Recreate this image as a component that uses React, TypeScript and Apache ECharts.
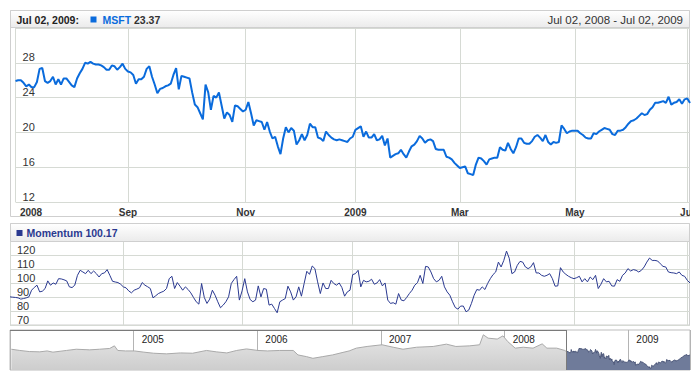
import React, { useEffect, useRef } from 'react';
import * as echarts from 'echarts';

// ---------- data ----------
const RANGE_START = '2008-07-02';
const RANGE_END = '2009-07-02';
const HOLIDAYS = ['2008-07-04', '2008-09-01', '2008-11-27', '2008-12-25', '2009-01-01', '2009-01-19', '2009-02-16', '2009-04-10', '2009-05-25'];
const MONTHS = ['Jan', 'Feb', 'Mar', 'Apr', 'May', 'Jun', 'Jul', 'Aug', 'Sep', 'Oct', 'Nov', 'Dec'];

// MSFT daily close, one value per trading day from Jul 02, 2008 to Jul 02, 2009
const msftValues = [
  25.9, 26.0, 26.0, 25.7, 25.3, 25.5, 25.2, 25.2, 25.8, 27.3,
  27.4, 25.9, 25.7, 25.9, 26.4, 25.5, 26.1, 25.5, 26.2, 26.2,
  25.8, 25.4, 25.2, 26.2, 26.8, 27.3, 28.0, 27.9, 28.1, 27.9,
  27.8, 27.8, 27.7, 27.5, 27.2, 27.2, 27.7, 27.6, 27.2, 27.5,
  27.9, 27.3, 27.0, 26.9, 26.6, 25.6, 26.1, 26.1, 26.4, 27.3,
  27.6, 26.4, 25.5, 24.5, 25.0, 25.1, 25.3, 25.4, 25.6, 26.6,
  27.4, 24.95, 26.5, 26.4, 26.3, 26.2, 24.6, 23.2, 22.9, 22.2,
  21.5, 25.5, 24.6, 22.6, 24.2, 24.0, 24.6, 23.1, 21.6, 22.3,
  22.0, 21.2, 23.1, 23.0, 22.7, 22.4, 22.6, 23.5, 22.2, 20.8,
  21.4, 21.3, 21.2, 20.3, 21.2, 20.1, 19.3, 19.5, 18.4, 17.5,
  19.3, 20.6, 20.0, 20.5, 20.2, 18.6, 19.1, 19.8, 19.1, 19.7,
  21.0, 20.6, 20.6, 19.4, 19.3, 19.0, 20.1, 19.7, 19.4, 19.2,
  19.1, 19.2, 19.1, 19.0, 18.9, 19.3, 19.5, 20.3, 20.5, 20.7,
  19.5, 20.1, 19.4, 19.4, 19.8, 19.1, 19.2, 19.6, 18.5, 19.3,
  17.1, 17.3, 17.5, 17.6, 18.0, 17.5, 17.1, 17.8, 18.4, 18.6,
  19.0, 19.6, 19.3, 18.8, 19.1, 19.2, 19.0, 18.1, 18.0, 18.0,
  18.0, 17.2, 17.1, 16.9, 16.5, 16.2, 15.9, 16.0, 16.1, 15.3,
  15.2, 15.1, 16.3, 17.1, 17.0, 16.7, 16.3, 16.9, 17.0, 17.1,
  17.1, 18.3, 18.0, 17.9, 18.8, 18.1, 17.6, 18.3, 19.3, 19.3,
  18.8, 18.7, 18.7, 19.0, 19.5, 19.7, 19.4, 19.0, 19.7, 18.9,
  18.6, 18.9, 18.8, 18.9, 20.8, 20.4, 19.9, 20.1, 20.2, 20.2,
  20.2, 19.9, 19.7, 19.4, 19.3, 19.3, 19.9, 19.8, 20.1, 20.3,
  20.5, 20.4, 20.3, 19.8, 19.7, 20.2, 20.2, 20.3, 20.6, 21.0,
  21.3, 21.4, 21.6, 21.9, 22.2, 22.0, 22.1, 22.6, 22.9, 23.4,
  23.4, 23.5, 23.6, 23.4, 24.1, 23.2, 23.4, 23.5, 23.8, 23.3,
  23.8, 23.9, 23.37,
];

// Momentum indicator, one value per trading day
const momentumValues = [
  90.2, 90.0, 89.8, 89.5, 88.6, 89.0, 89.5, 90.2, 95.0, 97.0,
  98.6, 93.8, 94.3, 96.2, 101.7, 98.6, 100.2, 99.3, 103.3, 103.1,
  102.5, 101.7, 97.4, 96.9, 98.6, 105.7, 109.3, 108.1, 106.9, 109.3,
  106.9, 108.8, 106.9, 104.5, 106.9, 107.4, 109.8, 105.7, 101.4, 100.9,
  100.5, 99.3, 97.4, 96.7, 94.5, 93.1, 95.0, 95.8, 96.7, 100.5,
  98.6, 97.5, 96.2, 89.5, 91.0, 92.6, 93.5, 94.3, 96.2, 103.3,
  105.0, 96.2, 100.5, 97.9, 95.0, 97.4, 95.5, 93.1, 89.8, 86.7,
  85.0, 99.8, 89.8, 85.5, 88.6, 95.0, 91.4, 86.7, 82.4, 84.3,
  86.7, 90.2, 99.8, 102.6, 105.0, 87.9, 94.5, 103.3, 93.8, 88.3,
  86.7, 87.9, 98.1, 90.2, 96.2, 95.7, 84.3, 85.0, 81.9, 78.8,
  86.7, 87.9, 89.0, 97.9, 93.8, 87.9, 90.2, 97.4, 90.7, 99.8,
  108.6, 106.4, 112.4, 110.5, 101.0, 92.6, 100.2, 96.2, 96.2, 102.1,
  99.8, 98.6, 100.2, 96.9, 90.7, 93.8, 95.0, 106.2, 106.9, 109.3,
  97.4, 102.1, 101.0, 101.4, 102.9, 99.3, 100.2, 102.6, 98.1, 100.2,
  87.9, 85.5, 86.0, 85.0, 92.6, 87.9, 87.4, 89.8, 92.6, 95.0,
  98.6, 100.4, 105.7, 99.8, 112.1, 111.7, 108.1, 103.3, 101.0, 102.1,
  105.0, 97.4, 93.8, 91.4, 86.7, 82.6, 81.4, 83.6, 83.6, 79.5,
  80.7, 85.5, 91.4, 95.5, 95.0, 97.4, 95.5, 99.8, 103.3, 106.2,
  108.1, 115.2, 111.7, 116.4, 123.1, 118.0, 106.9, 108.1, 112.9, 115.7,
  115.2, 111.7, 110.5, 111.7, 114.8, 107.4, 107.4, 105.7, 105.0, 105.7,
  106.9, 103.3, 97.9, 98.1, 111.2, 108.1, 106.4, 105.0, 104.0, 103.3,
  104.0, 105.0, 101.0, 103.3, 101.0, 104.5, 102.6, 105.7, 96.2, 99.3,
  103.3, 101.0, 101.4, 98.1, 97.9, 102.6, 101.4, 105.7, 107.4, 110.5,
  108.8, 109.8, 109.3, 108.1, 109.3, 111.7, 115.2, 118.1, 116.4, 116.4,
  116.0, 114.0, 112.1, 111.7, 108.1, 107.6, 107.4, 106.9, 108.1, 105.7,
  105.0, 102.1, 100.17,
];

// Navigator (full history before the selected range)
const navDates = [
  '2004-01-05', '2004-01-30', '2004-02-27', '2004-03-29', '2004-04-20', '2004-05-07', '2004-06-16', '2004-07-15',
  '2004-08-24', '2004-09-22', '2004-10-22', '2004-11-05', '2004-11-15', '2004-12-08',
  '2005-01-03', '2005-01-31', '2005-03-01', '2005-04-08', '2005-05-19', '2005-06-24', '2005-08-04', '2005-09-02',
  '2005-10-03', '2005-11-01', '2005-11-30',
  '2006-01-03', '2006-01-31', '2006-03-08', '2006-04-17', '2006-05-01', '2006-05-26', '2006-06-14', '2006-07-13',
  '2006-08-11', '2006-09-08', '2006-09-29', '2006-10-20', '2006-11-21',
  '2007-01-04', '2007-02-06', '2007-03-07', '2007-04-16', '2007-06-04', '2007-07-13', '2007-08-10', '2007-09-20',
  '2007-10-19', '2007-10-30', '2007-11-13', '2007-12-10', '2007-12-27',
  '2008-01-10', '2008-02-01', '2008-02-25', '2008-03-25', '2008-04-21', '2008-05-05', '2008-06-03', '2008-06-27',
];
const navValues = [
  27.5, 26.7, 26.0, 25.8, 26.4, 25.6, 26.7, 27.5, 27.1, 27.5, 28.0, 29.7, 26.7, 26.4,
  26.4, 25.6, 24.9, 24.5, 25.1, 24.9, 26.7, 25.8, 25.1, 26.7, 27.7,
  26.7, 26.4, 26.7, 26.7, 23.8, 22.7, 21.6, 22.7, 23.8, 25.3, 26.4, 28.2, 29.3,
  30.4, 28.8, 27.5, 28.8, 29.3, 30.8, 29.3, 29.7, 30.4, 36.9, 34.7, 34.1, 36.2,
  32.5, 28.2, 28.8, 28.2, 31.0, 28.2, 28.2, 26.7,
];

const PRICE_AXIS = { min: 12, max: 32, interval: 4 };
const MOMENTUM_AXIS = { min: 70, max: 130, interval: 10 };
const NAV_AXIS = { min: 14, max: 40 };
const NAV_START_YEAR = 2004;

// ---------- helpers ----------
function tradingDays(start: string, end: string, holidays: string[]): string[] {
  const out: string[] = [];
  const d = new Date(start + 'T00:00:00Z');
  const e = new Date(end + 'T00:00:00Z');
  while (d <= e) {
    const wd = d.getUTCDay();
    const s = d.toISOString().slice(0, 10);
    if (wd !== 0 && wd !== 6 && holidays.indexOf(s) < 0) out.push(s);
    d.setUTCDate(d.getUTCDate() + 1);
  }
  return out;
}

function fracYear(s: string): number {
  const [y, m, dd] = s.split('-').map(Number);
  const t0 = Date.UTC(y, 0, 1);
  const t1 = Date.UTC(y + 1, 0, 1);
  return y + (Date.UTC(y, m - 1, dd) - t0) / (t1 - t0);
}

function fmtDate(s: string): string {
  const [y, m, d] = s.split('-');
  return MONTHS[Number(m) - 1] + ' ' + d + ', ' + y;
}

const FONT = '"Liberation Sans", Arial, sans-serif';
const GRID_COLOR = '#d6dad4';
const MSFT_COLOR = '#0a6bdc';
const MOM_COLOR = '#2a3990';

function buildOption() {
  const days = tradingDays(RANGE_START, RANGE_END, HOLIDAYS);
  const monthOf = (i: number) => Number(days[i].slice(5, 7)) - 1;
  const isTick = (i: number) =>
    i >= 0 && i < days.length && (i === 0 || monthOf(i) !== monthOf(i - 1)) && monthOf(i) % 2 === 0;

  const labelFor = (_v: string, i: number) => {
    const m = monthOf(i);
    if (i === 0) return '{pad| }{b|' + days[i].slice(0, 4) + '}';
    if (m === 0) return days[i].slice(0, 4);
    return MONTHS[m];
  };

  const tStart = fracYear(days[0]);
  const tEnd = fracYear(days[days.length - 1]);
  const navGrey = navDates.map((d, i) => [fracYear(d), navValues[i]]);
  navGrey.push([tStart, msftValues[0]]);
  const navSel = days.map((d, i) => [fracYear(d), msftValues[i]]);

  const lastDate = fmtDate(days[days.length - 1]);
  const lastPrice = msftValues[msftValues.length - 1].toFixed(2);
  const lastMom = momentumValues[momentumValues.length - 1].toFixed(2);

  const headerFill = new echarts.graphic.LinearGradient(0, 0, 0, 1, [
    { offset: 0, color: '#ffffff' },
    { offset: 1, color: '#ebebeb' },
  ]);

  const catAxisCommon = {
    type: 'category',
    data: days,
    boundaryGap: false,
    axisLine: { show: false },
    axisTick: { show: false },
    splitLine: { show: true, interval: (i: number) => isTick(i), lineStyle: { color: GRID_COLOR, width: 1 } },
  };

  return {
    animation: false,
    backgroundColor: '#ffffff',
    textStyle: { fontFamily: FONT },
    grid: [
      { left: 10, top: 28, width: 680, height: 174 },
      { left: 10, top: 241.5, width: 680, height: 83.5 },
      { left: 10, top: 330, width: 680, height: 40, show: true, borderColor: '#bdbdbd', borderWidth: 1, backgroundColor: '#ffffff' },
    ],
    xAxis: [
      {
        ...catAxisCommon,
        gridIndex: 0,
        axisLabel: {
          interval: (i: number) => isTick(i),
          formatter: labelFor,
          fontFamily: FONT,
          fontWeight: 'bold',
          fontSize: 10,
          color: '#333333',
          margin: 5,
          rich: {
            pad: { width: 31, fontSize: 10 },
            b: { fontWeight: 'bold', fontSize: 10, color: '#333333', fontFamily: FONT },
          },
        },
      },
      { ...catAxisCommon, gridIndex: 1, axisLabel: { show: false } },
      {
        type: 'value',
        gridIndex: 2,
        min: NAV_START_YEAR,
        max: tEnd,
        interval: 1,
        position: 'top',
        axisLine: { show: false },
        axisTick: { show: false },
        splitLine: { show: true, lineStyle: { color: '#b4b4b4', width: 1 } },
        axisLabel: {
          inside: true,
          align: 'left',
          verticalAlign: 'top',
          padding: [0, 0, 0, 8],
          margin: 4,
          fontSize: 10,
          fontFamily: FONT,
          color: '#222222',
          showMaxLabel: false,
          formatter: (v: number) => (v <= NAV_START_YEAR || v > tEnd - 0.2 ? '' : String(v)),
        },
      },
    ],
    yAxis: [
      {
        type: 'value',
        gridIndex: 0,
        ...PRICE_AXIS,
        axisLine: { show: false },
        axisTick: { show: false },
        splitLine: { show: true, lineStyle: { color: GRID_COLOR, width: 1 } },
        axisLabel: {
          inside: true,
          align: 'left',
          verticalAlign: 'bottom',
          margin: 7,
          fontSize: 11,
          fontFamily: FONT,
          color: '#333333',
          formatter: (v: number) => (v >= PRICE_AXIS.max ? '' : String(v)),
        },
      },
      {
        type: 'value',
        gridIndex: 1,
        ...MOMENTUM_AXIS,
        axisLine: { show: false },
        axisTick: { show: false },
        splitLine: { show: true, lineStyle: { color: GRID_COLOR, width: 1 } },
        axisLabel: {
          inside: true,
          align: 'left',
          verticalAlign: 'bottom',
          margin: 7,
          fontSize: 11,
          fontFamily: FONT,
          color: '#333333',
          formatter: (v: number) => (v >= MOMENTUM_AXIS.max ? '' : String(v)),
        },
      },
      { type: 'value', gridIndex: 2, ...NAV_AXIS, show: false },
    ],
    series: [
      {
        type: 'line',
        name: 'MSFT',
        xAxisIndex: 0,
        yAxisIndex: 0,
        data: msftValues,
        symbol: 'none',
        lineStyle: { color: MSFT_COLOR, width: 2 },
        z: 5,
      },
      {
        type: 'line',
        name: 'Momentum',
        xAxisIndex: 1,
        yAxisIndex: 1,
        data: momentumValues,
        symbol: 'none',
        lineStyle: { color: MOM_COLOR, width: 1 },
        z: 5,
      },
      {
        type: 'line',
        xAxisIndex: 2,
        yAxisIndex: 2,
        data: navGrey,
        symbol: 'none',
        lineStyle: { color: '#a9a9a9', width: 1 },
        areaStyle: {
          origin: 'start',
          opacity: 1,
          color: new echarts.graphic.LinearGradient(0, 0, 0, 1, [
            { offset: 0, color: '#e6e6e6' },
            { offset: 1, color: '#cdcdcd' },
          ]),
        },
      },
      {
        type: 'line',
        xAxisIndex: 2,
        yAxisIndex: 2,
        data: navSel,
        symbol: 'none',
        lineStyle: { color: '#4b5678', width: 1 },
        areaStyle: { origin: 'start', opacity: 1, color: '#6f7b9a' },
        markLine: {
          silent: true,
          symbol: 'none',
          label: { show: false },
          lineStyle: { color: '#7a7a7a', type: 'solid', width: 1 },
          data: [
            { xAxis: tStart },
            { xAxis: tEnd },
            [{ coord: [NAV_START_YEAR, NAV_AXIS.max] }, { coord: [tStart, NAV_AXIS.max] }],
          ],
        },
      },
    ],
    graphic: [
      // main panel frame + header
      { type: 'rect', z: 0, silent: true, shape: { x: 10.5, y: 10.5, width: 679, height: 206 }, style: { fill: 'none', stroke: '#cfcfcf', lineWidth: 1 } },
      { type: 'rect', z: 1, silent: true, shape: { x: 10.5, y: 10.5, width: 679, height: 17 }, style: { fill: headerFill, stroke: '#cfcfcf', lineWidth: 1 } },
      { type: 'text', z: 10, silent: true, style: { text: lastDate + ':', x: 16.5, y: 19.5, textVerticalAlign: 'middle', font: 'bold 10.5px ' + FONT, fill: '#222222' } },
      { type: 'rect', z: 10, silent: true, shape: { x: 90.5, y: 16.5, width: 6, height: 6 }, style: { fill: MSFT_COLOR } },
      {
        type: 'text', z: 10, silent: true,
        style: {
          text: '{n|MSFT} {v|' + lastPrice + '}', x: 102.5, y: 19.5, textVerticalAlign: 'middle', font: 'bold 10.5px ' + FONT,
          rich: {
            n: { fill: MSFT_COLOR, font: 'bold 10.5px ' + FONT },
            v: { fill: '#333333', font: 'bold 10.5px ' + FONT },
          },
        },
      },
      { type: 'text', z: 10, silent: true, style: { text: fmtDate(days[0]) + ' - ' + lastDate, x: 683, y: 19.5, textAlign: 'right', textVerticalAlign: 'middle', font: '11.5px ' + FONT, fill: '#333333' } },
      // momentum panel frame + header
      { type: 'rect', z: 0, silent: true, shape: { x: 10.5, y: 223.5, width: 679, height: 101.5 }, style: { fill: 'none', stroke: '#cfcfcf', lineWidth: 1 } },
      { type: 'rect', z: 1, silent: true, shape: { x: 10.5, y: 223.5, width: 679, height: 18 }, style: { fill: headerFill, stroke: '#cfcfcf', lineWidth: 1 } },
      { type: 'rect', z: 10, silent: true, shape: { x: 16.5, y: 230, width: 6, height: 6 }, style: { fill: MOM_COLOR } },
      { type: 'text', z: 10, silent: true, style: { text: 'Momentum ' + lastMom, x: 26.5, y: 233, textVerticalAlign: 'middle', font: 'bold 10.5px ' + FONT, fill: MOM_COLOR } },
      // clip overflow of last axis label at the panel edge
      { type: 'rect', z: 100, silent: true, shape: { x: 690, y: 203, width: 10, height: 13 }, style: { fill: '#ffffff' } },
    ],
  };
}

export default function App() {
  const ref = useRef<HTMLDivElement>(null);
  useEffect(() => {
    document.body.style.margin = '0';
    if (!ref.current) return;
    const chart = echarts.init(ref.current, null, { renderer: 'svg' });
    chart.setOption(buildOption() as any);
    return () => chart.dispose();
  }, []);
  return <div ref={ref} style={{ width: 700, height: 380 }} />;
}
